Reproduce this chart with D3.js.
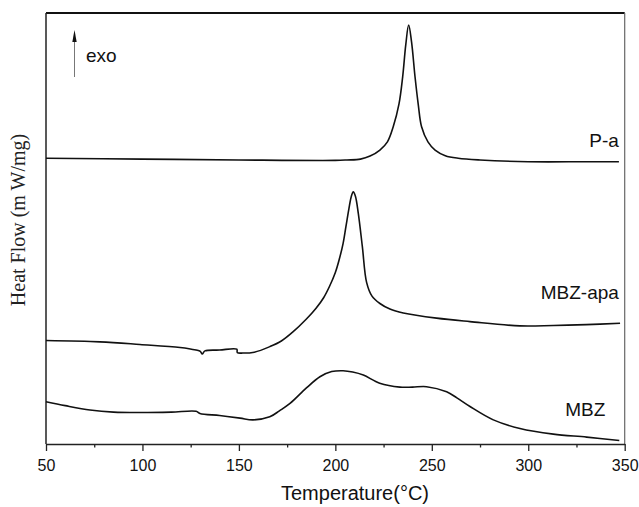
<!DOCTYPE html>
<html>
<head>
<meta charset="utf-8">
<script src="https://cdn.jsdelivr.net/npm/d3@7"></script>
<style>
  body { margin: 0; background: #fff; }
  svg { display: block; }
</style>
</head>
<body>
<svg id="chart" width="639" height="507"></svg>
<script>
var width = 639;
var height = 507;
var margin = {top: 13, right: 14.3, bottom: 63, left: 46};

// DSC traces, [temperature (C), heat flow (arb. units, offset stacked)]
var paData = [
  [50, 66.3], [100, 66.1], [150, 65.9], [200, 65.8], [206, 65.9], [213, 66.1],
  [218, 66.8], [223.1, 68.2], [227, 70.1], [230, 73.6], [233, 78.9],
  [234.9, 85.2], [236.5, 92.6], [238, 97.2], [239.5, 93.3], [241.3, 85.2],
  [243, 78.7], [244.7, 73.6], [248, 70.1], [251.7, 68.2], [257, 66.9],
  [263.7, 66.3], [275, 65.9], [300, 65.5], [330, 65.5], [347, 65.5]
];

var mbzApaData = [
  [50, 24.0], [78, 23.7], [98.7, 23.1], [119.5, 22.4], [127.8, 21.8],
  [130, 21.5], [131, 20.9], [132.4, 21.6], [140, 21.8], [148.9, 22.0],
  [149.2, 21.2], [152.1, 21.1], [158, 21.3], [166.1, 22.6], [172, 23.9],
  [178, 26.0], [185, 29.0], [190, 31.5], [194, 34.0], [197, 36.6],
  [200, 39.8], [202, 42.8], [204, 46.5], [205.5, 50.5], [207, 54.5],
  [208.3, 57.5], [209.3, 58.5], [210.4, 57.5], [211.9, 53.5], [214, 45.8],
  [216.2, 37.5], [219, 34.3], [223.1, 32.6], [228.3, 31.3], [235.2, 30.4],
  [252.5, 29.2], [269.8, 28.4], [295.7, 27.4], [313, 27.5], [330, 27.7],
  [347.6, 28.0]
];

var mbzData = [
  [50, 9.8], [60, 8.9], [72.8, 7.9], [85, 7.4], [98.7, 7.3], [115, 7.4],
  [127.8, 7.6], [129.8, 7.1], [140, 6.6], [150.6, 6.0], [157.3, 5.6],
  [166, 6.3], [171, 7.7], [176.5, 9.4], [185, 13.0], [192, 15.6],
  [198.1, 16.8], [204, 17.0], [209, 16.7], [214.5, 16.0], [223, 14.1],
  [233.5, 13.2], [240, 13.2], [247.3, 13.3], [257.7, 12.1], [263, 10.7],
  [269.8, 8.7], [281.9, 5.6], [295.7, 3.6], [313, 2.3], [330.3, 1.6],
  [347.2, 0.8]
];

var majorTicks = [50, 100, 150, 200, 250, 300, 350];
var minorTicks = [75, 125, 175, 225, 275, 325];

var seriesLabels = [
  {name: "P-a", t: 347, v: 69},
  {name: "MBZ-apa", t: 347, v: 33.6},
  {name: "MBZ", t: 340, v: 6.6}
];

var svg = d3.select("#chart");

var x = d3.scaleLinear().domain([50, 350])
  .range([margin.left, width - margin.right]);
var y = d3.scaleLinear().domain([0, 100])
  .range([height - margin.bottom, margin.top]);

// frame
svg.append("line")
  .attr("x1", margin.left).attr("x2", width - margin.right)
  .attr("y1", margin.top).attr("y2", margin.top)
  .attr("stroke", "#111").attr("stroke-width", 1.8);
svg.append("line")
  .attr("x1", width - margin.right).attr("x2", width - margin.right)
  .attr("y1", margin.top).attr("y2", height - margin.bottom)
  .attr("stroke", "#666").attr("stroke-width", 1.2);
svg.append("line")
  .attr("x1", margin.left).attr("x2", margin.left)
  .attr("y1", margin.top).attr("y2", height - margin.bottom)
  .attr("stroke", "#222").attr("stroke-width", 1.5);

// x axis, minor ticks first
svg.append("g")
  .attr("transform", "translate(0," + (height - margin.bottom) + ")")
  .call(d3.axisBottom(x).tickValues(minorTicks).tickSize(3.5).tickFormat(""))
  .call(g => g.select(".domain").remove())
  .selectAll("line").attr("stroke", "#222").attr("stroke-width", 1.3);

var xAxis = svg.append("g")
  .attr("transform", "translate(0," + (height - margin.bottom) + ")")
  .call(d3.axisBottom(x).tickValues(majorTicks).tickSize(7).tickSizeOuter(0)
    .tickPadding(9).tickFormat(d3.format("d")));
xAxis.select(".domain").attr("stroke", "#222").attr("stroke-width", 1.5);
xAxis.selectAll("line").attr("stroke", "#222").attr("stroke-width", 1.3);
xAxis.selectAll("text")
  .attr("fill", "#111")
  .style("font-family", "Arial, 'Liberation Sans', sans-serif")
  .style("font-size", "16px");

// axis titles
svg.append("text")
  .attr("x", 355).attr("y", 500)
  .attr("text-anchor", "middle")
  .attr("fill", "#111")
  .style("font-family", "Arial, 'Liberation Sans', sans-serif")
  .style("font-size", "20px")
  .text("Temperature(\u00B0C)");

svg.append("text")
  .attr("transform", "translate(25,220) rotate(-90)")
  .attr("text-anchor", "middle")
  .attr("fill", "#222")
  .style("font-family", "'Times New Roman', 'Liberation Serif', serif")
  .style("font-size", "20px")
  .text("Heat Flow (m W/mg)");

// curves
var line = d3.line()
  .x(d => x(d[0]))
  .y(d => y(d[1]))
  .curve(d3.curveCatmullRom.alpha(0.5));

[paData, mbzApaData, mbzData].forEach(function(data) {
  svg.append("path")
    .datum(data)
    .attr("d", line)
    .attr("fill", "none")
    .attr("stroke", "#111")
    .attr("stroke-width", 1.6)
    .attr("stroke-linejoin", "round");
});

// series labels
svg.selectAll(".series-label")
  .data(seriesLabels)
  .enter().append("text")
  .attr("class", "series-label")
  .attr("x", d => x(d.t))
  .attr("y", d => y(d.v))
  .attr("text-anchor", "end")
  .attr("fill", "#111")
  .style("font-family", "Arial, 'Liberation Sans', sans-serif")
  .style("font-size", "19px")
  .text(d => d.name);

// exo arrow
svg.append("line")
  .attr("x1", 74.5).attr("x2", 74.5)
  .attr("y1", 77).attr("y2", 40)
  .attr("stroke", "#777").attr("stroke-width", 1);
svg.append("path")
  .attr("d", "M74.5,30 L72.3,42 L76.7,42 Z")
  .attr("fill", "#111");
svg.append("text")
  .attr("x", 86).attr("y", 62)
  .attr("fill", "#111")
  .style("font-family", "Arial, 'Liberation Sans', sans-serif")
  .style("font-size", "19px")
  .text("exo");
</script>
</body>
</html>
